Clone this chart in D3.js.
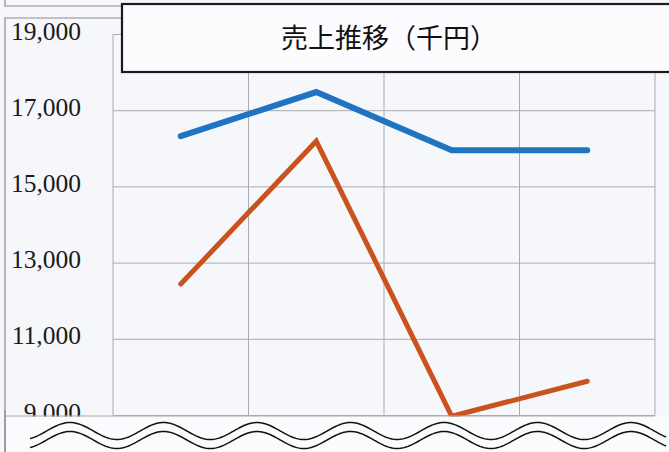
<!DOCTYPE html>
<html><head><meta charset="utf-8">
<script src="https://cdn.jsdelivr.net/npm/d3@7"></script>
<style>
html,body{margin:0;padding:0;background:#f7f8fc;}
svg{display:block;}
</style></head>
<body>
<svg id="c" width="669" height="452"></svg>
<script>
const categories = ["第1期", "第2期", "第3期", "第4期"];
const seriesBlue = [16330, 17490, 15960, 15960];
const seriesOrange = [12450, 16200, 8980, 9900];
const yTicks = [9000, 11000, 13000, 15000, 17000, 19000];
const title = "売上推移（千円）";

const svg = d3.select("#c");
const W = 669, H = 452;
svg.append("rect").attr("width", W).attr("height", H).attr("fill", "#f6f7fb");

const x = d3.scaleBand().domain(categories).range([113, 655]);
const y = d3.scaleLinear().domain([9000, 19000]).range([415.5, 34.5]);

// outer frame pieces
const frame = svg.append("g").attr("stroke", "#8a8c90").attr("fill", "none").attr("stroke-width", 1.2);
frame.append("path").attr("d", "M5,0 V6 H122");
frame.append("path").attr("d", "M5,452 V18 H122");

// gridlines
const grid = svg.append("g").attr("stroke", "#a9abaf").attr("stroke-width", 1);
grid.selectAll("line.h").data(yTicks).join("line")
  .attr("x1", 113).attr("x2", 655)
  .attr("y1", d => y(d)).attr("y2", d => y(d));
const vx = categories.map(c => x(c)).concat([x.range()[1]]);
grid.selectAll("line.v").data(vx).join("line")
  .attr("x1", d => d).attr("x2", d => d)
  .attr("y1", y(19000)).attr("y2", y(9000));

// y labels
svg.append("g").selectAll("text").data(yTicks).join("text")
  .attr("x", 81).attr("y", d => y(d) + 5)
  .attr("text-anchor", "end")
  .attr("font-family", "'Liberation Serif', 'Times New Roman', serif")
  .attr("font-size", 25.5).attr("fill", "#1a1a1a")
  .text(d => d3.format(",")(d));

// lines
const line = d3.line().x((d, i) => x(categories[i]) + x.bandwidth() / 2).y(d => y(d));
svg.append("path").datum(seriesOrange).attr("d", line)
  .attr("fill", "none").attr("stroke", "#c9521e").attr("stroke-width", 5)
  .attr("stroke-linecap", "round").attr("stroke-linejoin", "miter");
svg.append("path").datum(seriesBlue).attr("d", line)
  .attr("fill", "none").attr("stroke", "#1f74c1").attr("stroke-width", 6)
  .attr("stroke-linecap", "round").attr("stroke-linejoin", "miter");

// title box
svg.append("rect").attr("x", 122).attr("y", 4).attr("width", 560).attr("height", 68)
  .attr("fill", "#fcfcfe").attr("stroke", "#1c1c1c").attr("stroke-width", 2.2);
svg.append("text").attr("x", 389).attr("y", 48).attr("text-anchor", "middle")
  .attr("font-family", "'Noto Sans CJK JP', sans-serif").attr("font-size", 27)
  .attr("fill", "#111").text(title);

// break band
svg.append("rect").attr("x", 6).attr("y", 416.5).attr("width", W - 6).attr("height", H - 416.5)
  .attr("fill", "#fafbfd");
svg.append("line").attr("x1", 5).attr("x2", 5).attr("y1", 410).attr("y2", 452)
  .attr("stroke", "#8a8c90").attr("stroke-width", 1.2);
svg.append("line").attr("x1", 6).attr("x2", 655).attr("y1", 416).attr("y2", 416)
  .attr("stroke", "#a9abaf").attr("stroke-width", 1);

// wavy break lines (decoration)
function wave(c) {
  const pts = [];
  for (let px = 30; px <= 666; px += 2) {
    pts.push([px, c - 8.5 * Math.cos(2 * Math.PI * (px - 70) / 93.5)]);
  }
  return d3.line()(pts);
}
svg.append("path").attr("d", wave(431)).attr("fill", "none").attr("stroke", "#111").attr("stroke-width", 1.5);
svg.append("path").attr("d", wave(440)).attr("fill", "none").attr("stroke", "#111").attr("stroke-width", 1.5);
</script>
</body></html>
